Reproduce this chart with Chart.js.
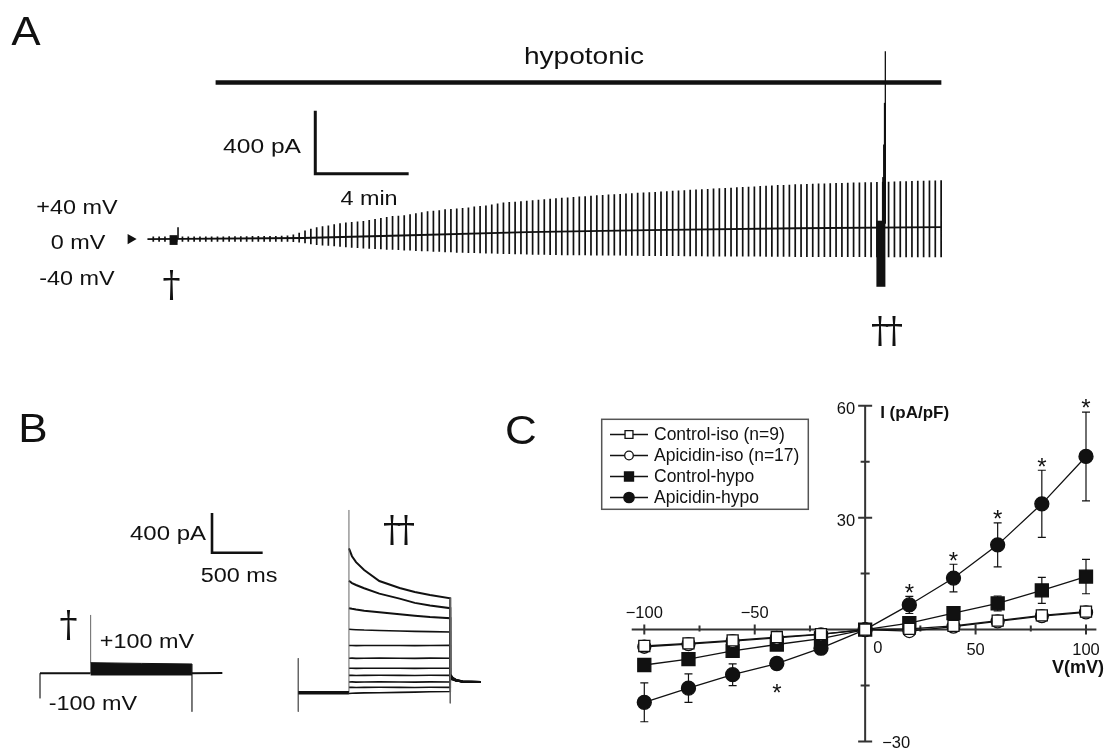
<!DOCTYPE html>
<html>
<head>
<meta charset="utf-8">
<title>Hypotonic-induced current</title>
<script src="https://cdn.jsdelivr.net/npm/chart.js@4.4.1/dist/chart.umd.min.js"></script>
<style>
    html, body { margin: 0; padding: 0; background: #fff; }
    #page { position: relative; width: 1104px; height: 752px; overflow: hidden; font-family: "Liberation Sans", Arial, sans-serif; color: #111; }
    #page canvas { position: absolute; }
    .lbl { position: absolute; white-space: nowrap; line-height: 1; }
</style>
</head>
<body>
<div id="page">
    <canvas id="chartA" width="1104" height="380" style="left:0;top:0"></canvas>
    <canvas id="chartB" width="560" height="372" style="left:0;top:380px"></canvas>
    <canvas id="chartC" width="544" height="362" style="left:560px;top:390px"></canvas>
</div>
<script>
"use strict";

// ---------- A : current during repeated ramps (min, pA)
var rampFirstMin = 0.25;
var rampEveryMin = 0.25;
var rampTopPA = [
    17, 17, 17, 17, 17, 17, 17, 17, 17, 17,
    17, 17, 17, 18, 18, 18, 18, 19, 19, 19,
    20, 20, 21, 23, 29, 41, 54, 66, 75, 81,
    87, 94, 100, 106, 109, 112, 115, 121, 127, 134,
    140, 146, 149, 152, 158, 164, 170, 177, 180, 183,
    189, 192, 195, 198, 201, 207, 210, 214, 220, 226,
    232, 235, 238, 241, 244, 247, 250, 254, 257, 260,
    263, 265, 268, 270, 273, 275, 278, 280, 283, 285,
    287, 290, 292, 294, 296, 298, 300, 302, 304, 307,
    309, 311, 313, 315, 317, 319, 321, 323, 325, 327,
    329, 331, 333, 335, 337, 339, 341, 343, 344, 346,
    348, 349, 350, 352, 353, 354, 355, 356, 357, 358,
    359, 360, 361, 362, 363, 364, 365, 366, 367, 368,
    369, 370, 371, 372, 373, 374
];
var rampBottomPA = [
    -17, -17, -17, -17, -17, -17, -17, -17, -17, -17,
    -17, -17, -17, -17, -17, -17, -17, -17, -17, -17,
    -17, -17, -17, -17, -19, -22, -26, -33, -37, -40,
    -43, -46, -49, -52, -55, -57, -59, -61, -63, -65,
    -67, -68, -70, -72, -73, -75, -77, -78, -80, -81,
    -83, -84, -86, -87, -88, -89, -90, -91, -92, -93,
    -94, -95, -96, -97, -98, -99, -100, -100, -101, -101,
    -102, -102, -103, -103, -103, -104, -104, -104, -105, -105,
    -105, -106, -106, -106, -107, -107, -107, -108, -108, -108,
    -108, -109, -109, -109, -109, -110, -110, -110, -110, -110,
    -111, -111, -111, -111, -111, -112, -112, -112, -112, -112,
    -113, -113, -113, -113, -113, -113, -114, -114, -114, -114,
    -114, -114, -114, -115, -115, -115, -115, -115, -115, -115,
    -115, -115, -116, -116, -116, -116
];
var baselineMin = [0, 6.65, 10.89, 16.27, 21.48, 27.84, 34.03];
var baselinePA = [0, 7, 23, 44, 57, 69, 76];
var isoStepMin = [1.12, 1.31];             // † step family
var isoStepPA = [[-37, 25], [0, 76]];
var hypoBlockMin = 31.42;                  // †† step family
var hypoBlockPA = [-303, 117];
var hypoSpikeMin = 31.61;
var hypoSpikeBasePA = 100;
var hypoSpikePA = [1194, 866, 601, 394];
var hypotonicMin = [2.92, 34.01];
var scaleBarA = { min: 7.19, pA: 415, dMin: 4, dPA: 400 };

// ---------- B : step family, -100..+100 mV (ms, pA)
var protocolMs = [0, 500, 1500, 1800];
var isoBandTopMs = [500, 1000, 1500];
var isoBandTopPA = [107, 100, 94];
var isoBandBottomPA = -17;
var isoTransientPA = [-252, 588, -387];
var stepMs = [0, 30, 70, 150, 300, 500, 650, 800, 1000];
var sweepPA = [
    [1455, 1375, 1315, 1236, 1125, 1055, 1015, 985, 951],
    [1128, 1105, 1085, 1052, 998, 948, 905, 878, 851],
    [851, 845, 838, 826, 810, 790, 775, 762, 750],
    [639, 637, 635, 631, 627, 622, 618, 615, 612],
    [475, 476, 474, 475, 476, 475, 474, 476, 477],
    [347, 348, 346, 347, 348, 347, 346, 348, 347],
    [246, 247, 245, 246, 247, 246, 245, 247, 246],
    [175, 176, 174, 175, 176, 175, 174, 176, 175],
    [108, 109, 107, 108, 109, 108, 107, 109, 108],
    [54, 55, 53, 54, 55, 54, 53, 55, 54],
    [-8, -6, -4, -2, 0, 3, 6, 9, 12]
];
var tailMs = [0, 25, 60, 120, 300];
var tailPA = [
    [185, 150, 128, 115, 108], [180, 148, 127, 114, 108], [175, 146, 126, 114, 108],
    [170, 144, 125, 113, 108], [165, 142, 124, 113, 108], [160, 140, 123, 112, 108],
    [155, 138, 122, 112, 108], [150, 136, 121, 111, 108], [145, 134, 120, 111, 108],
    [140, 132, 119, 110, 108], [135, 130, 118, 110, 108]
];
var hypoTransientPA = [347, -191, 1841, -107];
var scaleBarB = { ms: 1698, pA: 1215, dMs: 500, dPA: 400 };

// ---------- C : I-V relation (mV, pA/pF)
var voltages = [-100, -80, -60, -40, -20, 0, 20, 40, 60, 80, 100];
var ctrlIso = [-4.4, -3.7, -2.9, -2.0, -1.2, 0, 0.2, 1.0, 2.4, 3.8, 4.8];
var ctrlIsoSem = [0.8, 0.7, 0.6, 0.5, 0.4, 0.2, 0.4, 0.6, 0.8, 1.0, 1.1];
var apiIso = [-4.6, -3.9, -3.1, -2.2, -1.3, 0, -0.4, 0.8, 2.2, 3.6, 4.6];
var apiIsoSem = [0.9, 0.8, 0.7, 0.6, 0.5, 0.2, 0.5, 0.7, 0.9, 1.1, 1.2];
var ctrlHypo = [-9.5, -7.9, -5.7, -4.0, -2.4, 0, 1.7, 4.4, 7.0, 10.5, 14.2];
var ctrlHypoSem = [1.6, 1.5, 1.2, 0.8, 0.6, 0.3, 0.6, 1.0, 2.0, 3.5, 4.6];
var apiHypo = [-19.5, -15.7, -12.1, -9.1, -5.0, 0, 6.6, 13.8, 22.7, 33.7, 46.4];
var apiHypoSem = [5.2, 3.8, 2.9, 1.5, 1.2, 0.5, 2.3, 3.7, 5.9, 9.0, 11.9];
var starVolts = [-40, 20, 40, 60, 80, 100];
var xTicksC = [-100, -50, 0, 50, 100];
var yTicksC = [60, 30, -30];

var INK = "#111";
var page = document.getElementById("page");

function addText(text, x, y, opt) {
    var el = document.createElement("div");
    el.className = "lbl";
    el.textContent = text;
    el.style.fontSize = opt.size + "px";
    if (opt.font) el.style.fontFamily = opt.font;
    if (opt.bold) el.style.fontWeight = "bold";
    if (opt.spacing) el.style.letterSpacing = opt.spacing + "px";
    var tx = opt.anchor == "left" ? "0" : (opt.anchor == "right" ? "-100%" : "-50%");
    var tf = "translate(" + tx + ",-50%)";
    if (opt.stretch) {
        tf += " scaleX(" + opt.stretch + ")";
        el.style.transformOrigin = opt.anchor == "left" ? "left center" : (opt.anchor == "right" ? "right center" : "center center");
    }
    el.style.transform = tf;
    el.style.left = x + "px";
    el.style.top = y + "px";
    page.appendChild(el);
    return el;
}

function moveText(el, x, y) {
    el.style.left = x + "px";
    el.style.top = y + "px";
}

// value ranges so that a data origin lands on a given canvas pixel
function xRange(originPx, pxPerUnit, widthPx) {
    return { min: -originPx / pxPerUnit, max: (widthPx - originPx) / pxPerUnit };
}
function yRange(originPx, pxPerUnit, heightPx) {
    return { min: (originPx - heightPx) / pxPerUnit, max: originPx / pxPerUnit };
}

// vertical segments separated by gaps
function vlines(xs, lows, highs) {
    var out = [];
    for (var i = 0; i < xs.length; i++) {
        out.push({ x: xs[i], y: lows[i] });
        out.push({ x: xs[i], y: highs[i] });
        out.push({ x: xs[i], y: null });
    }
    return out;
}

function pairs(xs, ys) {
    var out = [];
    for (var i = 0; i < xs.length; i++) out.push({ x: xs[i], y: ys[i] });
    return out;
}

function seg(data, width, color) {
    return {
        data: data,
        borderColor: color || INK,
        borderWidth: width,
        borderCapStyle: "butt",
        pointRadius: 0,
        fill: false,
        spanGaps: false
    };
}

var baseOptions = function (scales) {
    return {
        responsive: false,
        animation: false,
        devicePixelRatio: 1,
        events: [],
        layout: { padding: 0 },
        scales: scales,
        plugins: { legend: { display: false }, tooltip: { enabled: false } },
        elements: { line: { tension: 0 } }
    };
};

var WIDE = 1.17;
var DAGGER = '"DejaVu Serif", serif';

// ================= Panel A
(function () {
    var rx = xRange(143, 23.6, 1104);
    var ry = yRange(240.7, 0.1625, 380);

    var rampMin = rampTopPA.map(function (v, i) { return rampFirstMin + i * rampEveryMin; });
    var hypoLevelPA = 995;

    var datasets = [
        seg(vlines(rampMin, rampBottomPA, rampTopPA), 1.7),
        seg(pairs(baselineMin, baselinePA), 1.8),
        seg(vlines([isoStepMin[0]], [isoStepPA[0][0]], [isoStepPA[0][1]]), 8),
        seg(vlines([isoStepMin[1]], [isoStepPA[1][0]], [isoStepPA[1][1]]), 1.6),
        seg(vlines([hypoBlockMin], [hypoBlockPA[0]], [hypoBlockPA[1]]), 9),
        seg(vlines([hypoSpikeMin], [hypoSpikeBasePA], [hypoSpikePA[0]]), 1.3),
        seg(vlines([hypoSpikeMin - 0.02], [hypoSpikeBasePA], [hypoSpikePA[1]]), 2),
        seg(vlines([hypoSpikeMin - 0.04], [hypoSpikeBasePA], [hypoSpikePA[2]]), 2.7),
        seg(vlines([hypoSpikeMin - 0.06], [hypoSpikeBasePA], [hypoSpikePA[3]]), 3.5),
        seg([{ x: hypotonicMin[0], y: hypoLevelPA }, { x: hypotonicMin[1], y: hypoLevelPA }], 4.3),
        seg([
            { x: scaleBarA.min, y: scaleBarA.pA + scaleBarA.dPA },
            { x: scaleBarA.min, y: scaleBarA.pA },
            { x: scaleBarA.min + scaleBarA.dMin, y: scaleBarA.pA }
        ], 3),
        {
            data: [{ x: -0.72, y: 0 }],
            showLine: false,
            pointStyle: "triangle",
            pointRotation: 90,
            pointRadius: 6,
            pointBackgroundColor: INK,
            pointBorderWidth: 0
        }
    ];

    new Chart(document.getElementById("chartA"), {
        type: "line",
        data: { datasets: datasets },
        options: baseOptions({
            x: { type: "linear", min: rx.min, max: rx.max, display: false },
            y: { type: "linear", min: ry.min, max: ry.max, display: false }
        })
    });

    addText("A", 26, 31, { size: 40, stretch: 1.1 });
    addText("hypotonic", 584, 55.5, { size: 24, stretch: WIDE });
    addText("400 pA", 262, 145, { size: 21, stretch: WIDE });
    addText("4 min", 369, 198, { size: 20, stretch: WIDE });
    addText("+40 mV", 77.3, 207.3, { size: 20, stretch: WIDE });
    addText("0 mV", 77.5, 242, { size: 20, stretch: WIDE });
    addText("-40 mV", 76.5, 278, { size: 20, stretch: WIDE });
    addText("\u2020", 171.5, 284, { size: 36, font: DAGGER });
    addText("\u2020\u2020", 885, 330, { size: 36, font: DAGGER, spacing: -4 });
})();

// ================= Panel B
(function () {
    var W = 560, H = 372;
    var msPx = 0.1013, paPx = 0.09925;
    var lx = xRange(40, msPx, W), ly = yRange(293.3, paPx, H);
    var hx = xRange(298.3, msPx, W), hy = yRange(312.7, paPx, H);

    function onIso(ds) { ds.xAxisID = "x"; ds.yAxisID = "y"; return ds; }
    function onHypo(ds) { ds.xAxisID = "x2"; ds.yAxisID = "y2"; return ds; }

    var t0 = protocolMs[0], tOn = protocolMs[1], tOff = protocolMs[2], tEnd = protocolMs[3];
    var datasets = [];

    // † recording
    var band = seg(pairs(isoBandTopMs, isoBandTopPA), 1);
    band.fill = "+1";
    band.backgroundColor = INK;
    datasets.push(onIso(band));
    datasets.push(onIso(seg([{ x: tOn, y: isoBandBottomPA }, { x: tOff, y: isoBandBottomPA }], 1)));
    datasets.push(onIso(seg([
        { x: t0, y: 0 }, { x: tOn, y: 0 }, { x: tOn, y: null },
        { x: tOff, y: 0 }, { x: tEnd, y: 3 }
    ], 2)));
    datasets.push(onIso(seg([
        { x: t0, y: 0 }, { x: t0, y: isoTransientPA[0] }, { x: t0, y: null },
        { x: tOn, y: 0 }, { x: tOn, y: isoTransientPA[1] }, { x: tOn, y: null },
        { x: tOff, y: isoBandTopPA[2] }, { x: tOff, y: isoTransientPA[2] }
    ], 1, "#666")));
    datasets.push(onIso(seg([
        { x: scaleBarB.ms, y: scaleBarB.pA + scaleBarB.dPA },
        { x: scaleBarB.ms, y: scaleBarB.pA },
        { x: scaleBarB.ms + scaleBarB.dMs, y: scaleBarB.pA }
    ], 2.6)));

    // †† recording
    datasets.push(onHypo(seg([{ x: t0, y: 0 }, { x: tOn, y: 0 }], 3.5)));
    datasets.push(onHypo(seg([
        { x: t0, y: hypoTransientPA[0] }, { x: t0, y: hypoTransientPA[1] }, { x: t0, y: null },
        { x: tOn, y: 0 }, { x: tOn, y: hypoTransientPA[2] }, { x: tOn, y: null },
        { x: tOff, y: sweepPA[0][sweepPA[0].length - 1] }, { x: tOff, y: hypoTransientPA[3] }
    ], 1, "#666")));
    sweepPA.forEach(function (row, k) {
        var pts = [];
        stepMs.forEach(function (t, j) { pts.push({ x: tOn + t, y: row[j] }); });
        tailMs.forEach(function (t, j) { pts.push({ x: tOff + t, y: tailPA[k][j] }); });
        datasets.push(onHypo(seg(pts, k < 3 ? 2 : 1.6)));
    });

    new Chart(document.getElementById("chartB"), {
        type: "line",
        data: { datasets: datasets },
        options: baseOptions({
            x: { type: "linear", min: lx.min, max: lx.max, display: false },
            y: { type: "linear", min: ly.min, max: ly.max, display: false },
            x2: { type: "linear", axis: "x", min: hx.min, max: hx.max, display: false },
            y2: { type: "linear", axis: "y", min: hy.min, max: hy.max, display: false }
        })
    });

    addText("B", 32.5, 428, { size: 40, stretch: 1.1 });
    addText("400 pA", 167.5, 533.3, { size: 20.5, stretch: WIDE });
    addText("500 ms", 238.5, 575, { size: 20, stretch: WIDE });
    addText("+100 mV", 146.5, 641, { size: 20, stretch: WIDE });
    addText("-100 mV", 92.5, 703.3, { size: 20, stretch: WIDE });
    addText("\u2020", 68.5, 624, { size: 36, font: DAGGER });
    addText("\u2020\u2020", 397, 529, { size: 36, font: DAGGER, spacing: -4 });
})();

// ================= Panel C
(function () {
    var OX = 560, OY = 390;
    var cFont = '"Liberation Sans", Arial, sans-serif';

    var series = [
        { label: "Control-iso (n=9)", y: ctrlIso, sem: ctrlIsoSem, style: "rect", r: 7.8, lr: 5.6, fill: "#fff", order: 1 },
        { label: "Apicidin-iso (n=17)", y: apiIso, sem: apiIsoSem, style: "circle", r: 6.5, lr: 4.3, fill: "#fff", order: 2 },
        { label: "Control-hypo", y: ctrlHypo, sem: ctrlHypoSem, style: "rect", r: 9.2, lr: 6.4, fill: INK, order: 3 },
        { label: "Apicidin-hypo", y: apiHypo, sem: apiHypoSem, style: "circle", r: 7, lr: 5.2, fill: INK, order: 4 }
    ];

    var datasets = series.map(function (s) {
        return {
            label: s.label,
            data: pairs(voltages, s.y),
            sem: s.sem,
            showLine: true,
            borderColor: INK,
            borderWidth: 1.3,
            pointStyle: s.style,
            pointRadius: s.r,
            pointBackgroundColor: s.fill,
            pointBorderColor: INK,
            pointBorderWidth: 1.3,
            clip: false,
            order: s.order
        };
    });

    var legendRowsY = [434.5, 455.5, 476.5, 497.5];
    series.forEach(function (s, i) {
        addText(s.label, 654, legendRowsY[i], { size: 17.5, font: cFont, anchor: "left" });
    });

    var tickEls = xTicksC.map(function (v) {
        return addText(v < 0 ? "\u2212" + (-v) : String(v), 0, 0, { size: 16.5, font: cFont, anchor: v == 0 ? "left" : "center" });
    });
    var yTickEls = yTicksC.map(function (v) {
        return addText(v < 0 ? "\u2212" + (-v) : String(v), 0, 0, { size: 16.5, font: cFont, anchor: v < 0 ? "left" : "right" });
    });
    var yTitle = addText("I (pA/pF)", 0, 0, { size: 17, font: cFont, bold: true, anchor: "left" });
    var xTitle = addText("V(mV)", 0, 0, { size: 18, font: cFont, bold: true, anchor: "left" });
    var starEls = starVolts.map(function () {
        return addText("*", 0, 0, { size: 24, font: cFont });
    });

    var decor = {
        id: "ivDecor",
        beforeDatasetsDraw: function (chart) {
            var ctx = chart.ctx, xs = chart.scales.x, ys = chart.scales.y;
            var x0 = xs.getPixelForValue(0), y0 = ys.getPixelForValue(0);
            ctx.save();
            ctx.strokeStyle = "#333";
            ctx.lineWidth = 2;
            ctx.beginPath();
            ctx.moveTo(xs.getPixelForValue(-105.7), y0);
            ctx.lineTo(xs.getPixelForValue(104.7), y0);
            ctx.moveTo(x0, ys.getPixelForValue(60));
            ctx.lineTo(x0, ys.getPixelForValue(-30));
            [-100, -50, 50, 100].forEach(function (v) {
                var p = xs.getPixelForValue(v);
                ctx.moveTo(p, y0 - 5); ctx.lineTo(p, y0 + 5);
            });
            [-75, -25, 25, 75].forEach(function (v) {
                var p = xs.getPixelForValue(v);
                ctx.moveTo(p, y0 - 4); ctx.lineTo(p, y0 + 2);
            });
            [60, 30, -30].forEach(function (v) {
                var p = ys.getPixelForValue(v);
                ctx.moveTo(x0 - 7, p); ctx.lineTo(x0 + 7, p);
            });
            [45, 15, -15].forEach(function (v) {
                var p = ys.getPixelForValue(v);
                ctx.moveTo(x0 - 4.5, p); ctx.lineTo(x0 + 4.5, p);
            });
            ctx.stroke();

            // error bars
            ctx.strokeStyle = INK;
            ctx.lineWidth = 1.2;
            ctx.beginPath();
            chart.data.datasets.forEach(function (ds) {
                ds.data.forEach(function (pt, i) {
                    var px = xs.getPixelForValue(pt.x);
                    var hi = ys.getPixelForValue(pt.y + ds.sem[i]);
                    var lo = ys.getPixelForValue(pt.y - ds.sem[i]);
                    ctx.moveTo(px, hi); ctx.lineTo(px, lo);
                    ctx.moveTo(px - 4, hi); ctx.lineTo(px + 4, hi);
                    ctx.moveTo(px - 4, lo); ctx.lineTo(px + 4, lo);
                });
            });
            ctx.stroke();

            // legend box and keys
            ctx.strokeStyle = "#555";
            ctx.lineWidth = 1.5;
            ctx.strokeRect(601.7 - OX, 419.3 - OY, 206.6, 90);
            series.forEach(function (s, i) {
                var ly = legendRowsY[i] - OY;
                ctx.strokeStyle = INK;
                ctx.lineWidth = 1.3;
                ctx.beginPath();
                ctx.moveTo(610 - OX, ly); ctx.lineTo(648 - OX, ly);
                ctx.stroke();
                ctx.fillStyle = s.fill;
                Chart.helpers.drawPoint(ctx, { pointStyle: s.style, radius: s.lr, rotation: 0, borderWidth: 1.2 }, 629 - OX, ly);
            });
            ctx.restore();
        },
        afterDraw: function (chart) {
            var xs = chart.scales.x, ys = chart.scales.y;
            var x0 = OX + xs.getPixelForValue(0), y0 = OY + ys.getPixelForValue(0);
            xTicksC.forEach(function (v, i) {
                var px = OX + xs.getPixelForValue(v);
                if (v < 0) moveText(tickEls[i], px, y0 - 17.3);
                else if (v == 0) moveText(tickEls[i], x0 + 8, y0 + 17.4);
                else moveText(tickEls[i], px, y0 + 19.4);
            });
            yTicksC.forEach(function (v, i) {
                var py = OY + ys.getPixelForValue(v);
                if (v < 0) moveText(yTickEls[i], x0 + 17, py);
                else moveText(yTickEls[i], x0 - 10, py + 2);
            });
            moveText(yTitle, x0 + 15, OY + ys.getPixelForValue(60) + 6);
            moveText(xTitle, OX + xs.getPixelForValue(100) - 34, y0 + 37);
            starVolts.forEach(function (v, i) {
                var k = voltages.indexOf(v);
                var px = OX + xs.getPixelForValue(v);
                var py = v < 0
                    ? OY + ys.getPixelForValue(apiHypo[k] - apiHypoSem[k]) + 18
                    : OY + ys.getPixelForValue(apiHypo[k] + apiHypoSem[k]) - 9;
                moveText(starEls[i], px, py + 5.4);
            });
        }
    };

    new Chart(document.getElementById("chartC"), {
        type: "scatter",
        data: { datasets: datasets },
        options: {
            responsive: false,
            animation: false,
            devicePixelRatio: 1,
            events: [],
            layout: { padding: { left: 84.3, right: 18, top: 15.7, bottom: 5 } },
            scales: {
                x: { type: "linear", min: -100, max: 100, display: false },
                y: { type: "linear", min: -30, max: 60, display: false }
            },
            plugins: { legend: { display: false }, tooltip: { enabled: false } }
        },
        plugins: [decor]
    });

    addText("C", 521, 430, { size: 40, stretch: 1.1 });
})();
</script>
</body>
</html>
